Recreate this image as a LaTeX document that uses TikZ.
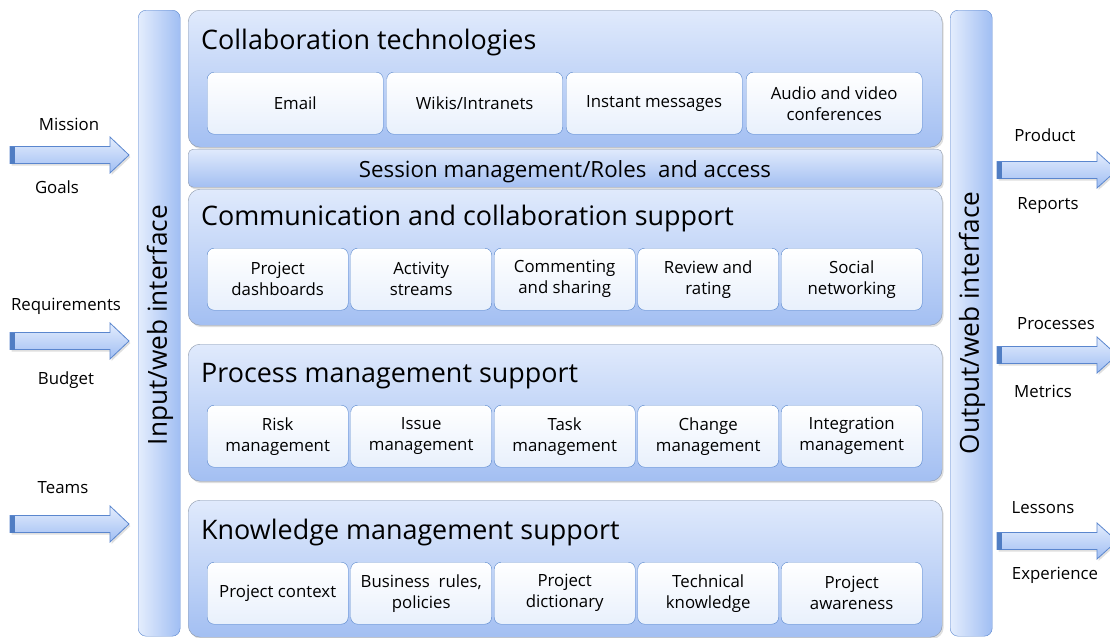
\documentclass[tikz,border=0pt]{standalone}
\usepackage{fontspec}
\setmainfont{Open Sans}
\usetikzlibrary{shadows}
\definecolor{ptop}{RGB}{224,234,252}
\definecolor{pbot}{RGB}{163,191,242}
\definecolor{pborder}{RGB}{140,152,170}
\definecolor{btop}{RGB}{255,255,255}
\definecolor{bbot}{RGB}{232,240,252}
\definecolor{bborder}{RGB}{84,132,204}
\definecolor{barl}{RGB}{228,237,253}
\definecolor{barr}{RGB}{160,190,243}
\definecolor{barborder}{RGB}{90,134,206}
\definecolor{stub}{RGB}{80,125,195}
\tikzset{
  panel/.style={draw=pborder, rounded corners=12pt, top color=ptop, bottom color=pbot,
    drop shadow={shadow xshift=1.5pt, shadow yshift=-2pt, opacity=0.25},
    inner sep=0pt, anchor=north west},
  sessionbar/.style={draw=pborder, rounded corners=5pt, top color=ptop, bottom color=pbot,
    drop shadow={shadow xshift=1.5pt, shadow yshift=-2pt, opacity=0.25},
    inner sep=0pt, anchor=north west},
  sesstext/.style={inner sep=0pt, font=\fontsize{22.3}{26}\selectfont},
  itembox/.style={draw=bborder, rounded corners=7pt, top color=btop, bottom color=bbot,
    inner sep=0pt, anchor=north west, align=center, font=\fontsize{16.8}{21}\selectfont},
  vbar/.style={draw=barborder, rounded corners=8pt, left color=barl, right color=barr,
    inner sep=0pt, anchor=north west},
  title/.style={anchor=west, inner sep=0pt, font=\fontsize{26.9}{32}\selectfont},
  lbl/.style={inner sep=0pt, font=\fontsize{16.8}{20}\selectfont},
  barlabel/.style={rotate=90, inner sep=0pt, font=\fontsize{26.2}{30}\selectfont},
  arrowbody/.style={draw=barborder, line width=0.8pt, top color=barl, bottom color=barr,
    drop shadow={shadow xshift=1.5pt, shadow yshift=-2pt, opacity=0.25}}
}
% block arrow: #1 tail x, #2 center y, #3 head start x, #4 tip x
\newcommand{\blockarr}[4]{%
  \path[arrowbody] (#1,#2-8.5) -- (#3,#2-8.5) -- (#3,#2-18) -- (#4,#2) -- (#3,#2+18)
    -- (#3,#2+8.5) -- (#1,#2+8.5) -- cycle;
  \fill[stub] (#1,#2-8.5) rectangle (#1+5,#2+8.5);
}
\begin{document}
\begin{tikzpicture}[x=1pt,y=-1pt]
\useasboundingbox (0,0) rectangle (1110,637);
\clip (0,0) rectangle (1110,637);

% vertical bars
\node[vbar, minimum width=42pt, minimum height=626pt] (inbar) at (138,10) {};
\node[barlabel] (inlbl) at (160,325) {Input/web interface};
\node[vbar, minimum width=42pt, minimum height=626pt] (outbar) at (950,10) {};
\node[barlabel] (outlbl) at (972,323) {Output/web interface};

% panels
\node[panel, minimum width=754pt, minimum height=137pt] (p1) at (188,10) {};
\node[title] (t1) at (201,43) {Collaboration technologies};
\node[sessionbar, minimum width=754pt, minimum height=38pt] (sess) at (188,149) {};
\node[sesstext] (sesst) at (565,172) {Session management/Roles\ \ and access};
\node[panel, minimum width=754pt, minimum height=136pt] (p2) at (188,189) {};
\node[title] (t2) at (201,219) {Communication and collaboration support};
\node[panel, minimum width=754pt, minimum height=137pt] (p3) at (188,344) {};
\node[title] (t3) at (201,376) {Process management support};
\node[panel, minimum width=754pt, minimum height=137pt] (p4) at (188,500) {};
\node[title] (t4) at (201,533) {Knowledge management support};

% collaboration technologies items
\node[itembox, minimum width=176pt, minimum height=62pt] (c1) at (207,72) {Email};
\node[itembox, minimum width=176pt, minimum height=62pt] (c2) at (386.5,72) {Wikis/Intranets};
\node[itembox, minimum width=176pt, minimum height=62pt] (c3) at (566,72) {Instant messages};
\node[itembox, minimum width=176pt, minimum height=62pt] (c4) at (746,72) {Audio and video\\conferences};

% communication items
\node[itembox, minimum width=141pt, minimum height=62pt] (m1) at (207,248) {Project\\dashboards};
\node[itembox, minimum width=141pt, minimum height=62pt] (m2) at (350.5,248) {Activity\\streams};
\node[itembox, minimum width=141pt, minimum height=62pt] (m3) at (494,248) {Commenting\\and sharing};
\node[itembox, minimum width=141pt, minimum height=62pt] (m4) at (637.5,248) {Review and\\rating};
\node[itembox, minimum width=141pt, minimum height=62pt] (m5) at (781,248) {Social\\networking};

% process items
\node[itembox, minimum width=141pt, minimum height=62pt] (r1) at (207,405) {Risk\\management};
\node[itembox, minimum width=141pt, minimum height=62pt] (r2) at (350.5,405) {Issue\\management};
\node[itembox, minimum width=141pt, minimum height=62pt] (r3) at (494,405) {Task\\management};
\node[itembox, minimum width=141pt, minimum height=62pt] (r4) at (637.5,405) {Change\\management};
\node[itembox, minimum width=141pt, minimum height=62pt] (r5) at (781,405) {Integration\\management};

% knowledge items
\node[itembox, minimum width=141pt, minimum height=62pt] (k1) at (207,562) {Project context};
\node[itembox, minimum width=141pt, minimum height=62pt] (k2) at (350.5,562) {Business\ \ rules,\\policies};
\node[itembox, minimum width=141pt, minimum height=62pt] (k3) at (494,562) {Project\\dictionary};
\node[itembox, minimum width=141pt, minimum height=62pt] (k4) at (637.5,562) {Technical\\knowledge};
\node[itembox, minimum width=141pt, minimum height=62pt] (k5) at (781,562) {Project\\awareness};

% left arrows
\blockarr{10}{155}{110}{129}
\blockarr{10}{341}{110}{129}
\blockarr{10}{524}{110}{129}
\node[lbl] (l1) at (69,124) {Mission};
\node[lbl] (l2) at (57,187) {Goals};
\node[lbl] (l3) at (66,306) {Requirements};
\node[lbl] (l4) at (66,380) {Budget};
\node[lbl] (l5) at (63,488) {Teams};

% right arrows
\blockarr{997}{170}{1097}{1117}
\blockarr{997}{355}{1097}{1117}
\blockarr{997}{541}{1097}{1117}
\node[lbl] (o1) at (1045,135) {Product};
\node[lbl] (o2) at (1048,206) {Reports};
\node[lbl] (o3) at (1056,324) {Processes};
\node[lbl] (o4) at (1043,391) {Metrics};
\node[lbl] (o5) at (1043,508) {Lessons};
\node[lbl] (o6) at (1055,575) {Experience};
\end{tikzpicture}
\end{document}
